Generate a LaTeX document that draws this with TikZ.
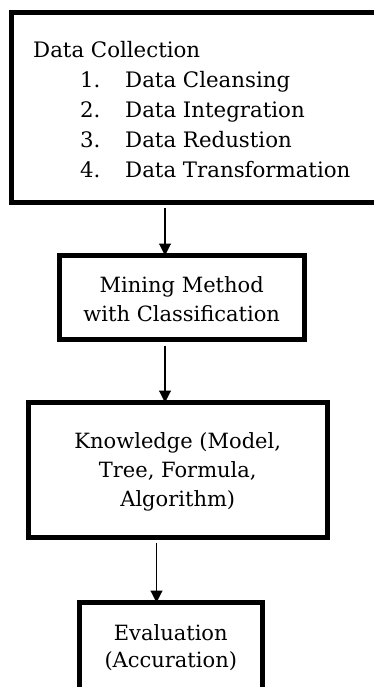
\documentclass[tikz,border=0pt]{standalone}
\usepackage{fontspec}
\setmainfont{DejaVu Serif}
\usetikzlibrary{arrows.meta}
\tikzset{
  boxnode/.style={draw=black, line width=5pt, rectangle, inner sep=0pt, outer sep=0pt},
  txt/.style={inner sep=0pt, font=\fontsize{21}{29}\selectfont, align=center},
  arr/.style={draw=black, line width=1.1pt, -{Triangle[width=12pt,length=12pt]}}
}
\begin{document}
\begin{tikzpicture}[x=1pt,y=-1pt]
\useasboundingbox (0,0) rectangle (374,687);
\clip (0,0) rectangle (374,687);
\fill[white] (0,0) rectangle (374,687);
% Box 1
\node[boxnode, minimum width=373.5pt, minimum height=189.5pt] (b1) at (198.25,107.25) {};
\node[txt, align=left, anchor=west, font=\fontsize{21.3}{30}\selectfont] (b1t) at (33,110)
 {Data Collection\\
  \hspace*{47pt}\makebox[45pt][l]{1.}Data Cleansing\\
  \hspace*{47pt}\makebox[45pt][l]{2.}Data Integration\\
  \hspace*{47pt}\makebox[45pt][l]{3.}Data Redustion\\
  \hspace*{47pt}\makebox[45pt][l]{4.}Data Transformation};
% Box 2
\node[boxnode, minimum width=245.5pt, minimum height=84pt] (b2) at (181.75,297.5) {};
\node[txt] (b2t) at (181.75,299) {Mining Method\\with Classification};
% Box 3
\node[boxnode, minimum width=299.5pt, minimum height=135pt] (b3) at (177.75,470) {};
\node[txt] (b3t) at (177.75,472) {Knowledge (Model,\\Tree, Formula,\\Algorithm)};
% Box 4
\node[boxnode, minimum width=183.5pt, minimum height=89.5pt] (b4) at (170.75,647.25) {};
\node[txt, font=\fontsize{21}{27}\selectfont] (b4t) at (170.75,647.5) {Evaluation\\(Accuration)};
% arrow x positions
\coordinate (ax1) at (165,0);
\coordinate (ax3) at (156.5,0);
\draw[arr, shorten <=5.5pt] (b1.south -| ax1) -- (b2.north -| ax1);
\draw[arr, shorten <=6pt] (b2.south -| ax1) -- (b3.north -| ax1);
\draw[arr, shorten <=5pt] (b3.south -| ax3) -- (b4.north -| ax3);
\end{tikzpicture}
\end{document}
